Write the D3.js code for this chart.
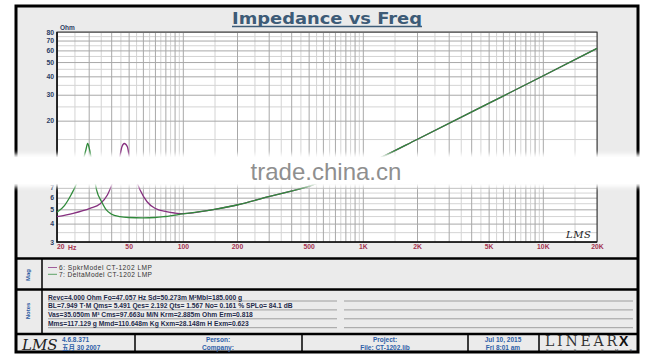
<!DOCTYPE html>
<html><head><meta charset="utf-8">
<script src="https://cdn.jsdelivr.net/npm/d3@7"></script>
<style>
html,body{margin:0;padding:0;background:#fff;}
svg{display:block;}
text{font-family:"Liberation Sans",Arial,"Noto Sans CJK SC",sans-serif;}
</style></head><body>
<svg id="c" width="652" height="360"></svg>
<script>
// ---- data ----
const spkrFreq = [20,24.6,30.5,34.6,38.1,41,44.3,45.9,47.3,49.2,50.7,54,57.9,63.3,70,81,90,100,150,200,300,400,500,700,1000,1273,2000,5000,10000,20000];
const spkrOhm  = [4.46,4.7,5.08,5.43,6.25,7.8,10.8,13.3,14.0,13.3,10.8,8.4,6.76,5.63,5.08,4.82,4.72,4.67,5.0,5.35,6.09,6.65,7.15,8.4,9.85,11.3,14.9,26.2,40.2,62];
const deltaFreq = [20,22,24,25.7,27,28,29,29.6,30.3,31.1,32,33.2,35.4,37.6,40,44.8,50,60,70,80,100,150,200,300,400,500,700,1000,1273,2000,5000,10000,20000];
const deltaOhm  = [4.77,5.3,6.3,7.5,9.0,10.8,12.8,14.0,12.8,10.8,8.6,6.76,5.63,4.95,4.65,4.46,4.4,4.38,4.4,4.47,4.65,5.0,5.35,6.09,6.65,7.15,8.4,9.85,11.3,14.9,26.2,40.2,62];
const xTickValues = [20,50,100,200,500,1000,2000,5000,10000,20000];
const xTickLabels = ["20","50","100","200","500","1K","2K","5K","10K","20K"];
const yTickValues = [3,4,5,6,7,8,9,10,20,30,40,50,60,70,80];
const legendLabels = ["6: SpkrModel  CT-1202 LMP","7: DeltaModel  CT-1202 LMP"];
const notes = [
  "Revc=4.000 Ohm  Fo=47.057 Hz  Sd=50.273m M\u00b2Mbl=185.000 g",
  "BL=7.949 T\u00b7M  Qms= 5.491  Qes= 2.192  Qts= 1.567  No= 0.161 %  SPLo= 84.1 dB",
  "Vas=35.050m M\u00b3 Cms=97.663u M/N  Krm=2.885m Ohm  Erm=0.818",
  "Mms=117.129 g  Mmd=110.648m Kg  Kxm=28.148m H  Exm=0.623"
];
const seriesColors = ["#86307f","#2f8a3a"];

// ---- drawing ----
const svg = d3.select("#c");
const defs = svg.append("defs");
defs.append("filter").attr("id","blur").attr("x","-10%").attr("y","-60%").attr("width","120%").attr("height","220%")
  .append("feGaussianBlur").attr("stdDeviation",2.2);

// frame
svg.append("rect").attr("x",16).attr("y",6).attr("width",622).attr("height",346)
  .attr("fill","#ebebeb").attr("stroke","#000").attr("stroke-width",3);

// title
svg.append("text").attr("x",327).attr("y",24).attr("text-anchor","middle")
  .style("font-family","DejaVu Sans, Verdana, sans-serif")
  .attr("font-weight","bold").attr("font-size",16).attr("fill","#3d5b77")
  .attr("textLength",190).attr("lengthAdjust","spacingAndGlyphs").text("Impedance vs Freq");
svg.append("line").attr("x1",232).attr("x2",422).attr("y1",26.5).attr("y2",26.5)
  .attr("stroke","#3d5b77").attr("stroke-width",1.5);

// scales
const x = d3.scaleLog().domain([20,20000]).range([57,597]);
const y = d3.scaleLog().domain([3,80]).range([242,32]);
const pw = 540, ph = 210;

svg.append("rect").attr("x",57).attr("y",32).attr("width",pw).attr("height",ph).attr("fill","#fff");

function gridVals(decades, lo, hi){
  const minor=[], major=[];
  decades.forEach(d=>{
    for(let m=2;m<=20;m++){
      const v = +(m*d/2).toPrecision(6);
      if(v<lo||v>hi) continue;
      if(m%2===0) major.push(v); else minor.push(v);
    }
  });
  return {minor:[...new Set(minor)], major:[...new Set(major)]};
}
const gx = gridVals([10,100,1000,10000],20,20000);
const gy = gridVals([1,10],3,80);

function grid(vals, color){
  const gX = svg.append("g").attr("transform","translate(0,242)")
    .call(d3.axisBottom(x).tickValues(vals.x).tickSize(-ph).tickFormat(""));
  const gY = svg.append("g").attr("transform","translate(57,0)")
    .call(d3.axisLeft(y).tickValues(vals.y).tickSize(-pw).tickFormat(""));
  [gX,gY].forEach(g=>{ g.select(".domain").remove(); g.selectAll("line").attr("stroke",color).attr("stroke-width",1); });
}
grid({x:gx.minor,y:gy.minor},"#d4d4d4");
grid({x:gx.major,y:gy.major},"#a8a8a8");

// plot border
svg.append("rect").attr("x",57).attr("y",32).attr("width",pw).attr("height",ph)
  .attr("fill","none").attr("stroke","#333").attr("stroke-width",1);
svg.append("path").attr("d",`M57,32V242H597`).attr("fill","none").attr("stroke","#111").attr("stroke-width",1.6);

// axis labels
const ax = svg.append("g").attr("transform","translate(57,0)")
  .call(d3.axisLeft(y).tickValues(yTickValues).tickSize(0).tickPadding(3).tickFormat(d3.format("d")));
ax.select(".domain").remove();
ax.selectAll("text").attr("font-size",6.8).attr("font-weight","bold").attr("fill","#2b3d63")
  .style("font-family","Liberation Sans, Arial, sans-serif");
const bx = svg.append("g").attr("transform","translate(0,242)")
  .call(d3.axisBottom(x).tickValues(xTickValues).tickSize(0).tickPadding(2).tickFormat((d,i)=>xTickLabels[i]));
bx.select(".domain").remove();
bx.selectAll("text").attr("font-size",6.8).attr("font-weight","bold").attr("fill","#a3324f")
  .style("font-family","Liberation Sans, Arial, sans-serif");
bx.selectAll("text").filter((d,i)=>i===0).attr("text-anchor","start").attr("dx",-0.5);
svg.append("text").attr("x",68).attr("y",249.5).attr("font-size",6.8).attr("font-weight","bold")
  .attr("fill","#a3324f").text("Hz");
svg.append("text").attr("x",60).attr("y",30).attr("font-size",6.5).attr("font-weight","bold")
  .attr("fill","#2b3d63").text("Ohm");

// curves
const line = d3.line().x(d=>x(d[0])).y(d=>y(d[1])).curve(d3.curveMonotoneX);
svg.append("path").datum(d3.zip(spkrFreq,spkrOhm)).attr("d",line).attr("fill","none")
  .attr("stroke",seriesColors[0]).attr("stroke-width",1.3);
svg.append("path").datum(d3.zip(deltaFreq,deltaOhm)).attr("d",line).attr("fill","none")
  .attr("stroke",seriesColors[1]).attr("stroke-width",1.3);

// LMS logo in plot
svg.append("text").attr("x",566).attr("y",238).attr("font-size",10).attr("font-style","italic")
  .style("font-family","DejaVu Serif, serif")
  .attr("fill","#222").attr("letter-spacing",0.5).text("LMS");

// section separators
svg.append("line").attr("x1",16).attr("x2",638).attr("y1",258.5).attr("y2",258.5).attr("stroke","#000").attr("stroke-width",2.5);
svg.append("line").attr("x1",16).attr("x2",638).attr("y1",289.5).attr("y2",289.5).attr("stroke","#000").attr("stroke-width",2.5);
svg.append("line").attr("x1",16).attr("x2",638).attr("y1",334).attr("y2",334).attr("stroke","#000").attr("stroke-width",2.5);
svg.append("line").attr("x1",42).attr("x2",42).attr("y1",259).attr("y2",334).attr("stroke","#000").attr("stroke-width",1.5);

// side labels
[["Mag",275],["Notes",311]].forEach(([t,cy])=>{
  svg.append("text").attr("transform",`translate(30,${cy}) rotate(-90)`).attr("text-anchor","middle")
    .attr("font-size",6).attr("font-weight","bold").attr("fill","#2a5aa0").text(t);
});

// legend
legendLabels.forEach((t,i)=>{
  const yy = 267.5 + i*6.8;
  svg.append("line").attr("x1",48).attr("x2",57).attr("y1",yy).attr("y2",yy)
    .attr("stroke",seriesColors[i]).attr("stroke-width",1).attr("opacity",0.75);
  svg.append("text").attr("x",59).attr("y",yy+2.2).attr("font-size",6.6).attr("fill","#333")
    .attr("textLength",93).attr("lengthAdjust","spacing").text(t);
});

// notes
notes.forEach((t,i)=>{
  const yy = 301 + i*8.9;
  svg.append("line").attr("x1",48).attr("x2",337).attr("y1",yy).attr("y2",yy).attr("stroke","#8a8a8a").attr("stroke-width",0.8);
  svg.append("line").attr("x1",344).attr("x2",633).attr("y1",yy).attr("y2",yy).attr("stroke","#8a8a8a").attr("stroke-width",0.8);
  svg.append("text").attr("x",48).attr("y",yy-1.5).attr("font-size",6.7).attr("font-weight","bold")
    .attr("fill","#1e2a4a").text(t);
});

// footer
[135,302,468,539].forEach(xx=>{
  svg.append("line").attr("x1",xx).attr("x2",xx).attr("y1",335).attr("y2",352).attr("stroke","#000").attr("stroke-width",1.5);
});
svg.append("text").attr("x",22).attr("y",350).attr("font-size",15).attr("font-style","italic")
  .style("font-family","DejaVu Serif, serif")
  .attr("fill","#222").text("LMS");
const foot = [
  [62,341.5,"4.6.8.371","start"],[62,350,"\u4e94\u6708 30 2007","start"],
  [218,341.5,"Person:","middle"],[218,350,"Company:","middle"],
  [385,341.5,"Project:","middle"],[385,350,"File: CT-1202.lib","middle"],
  [503,341.5,"Jul 10, 2015","middle"],[503,350,"Fri  8:01 am","middle"]
];
foot.forEach(([fx,fy,t,a])=>{
  svg.append("text").attr("x",fx).attr("y",fy).attr("text-anchor",a).attr("font-size",6.5)
    .attr("font-weight","bold").attr("fill","#2e5fa8").text(t);
});
svg.append("text").attr("x",545).attr("y",346).attr("font-size",14)
  .style("font-family","DejaVu Serif, serif")
  .attr("font-weight","200").attr("fill","#333").attr("textLength",72).attr("lengthAdjust","spacing").text("LINEAR");
svg.append("text").attr("x",619).attr("y",346).attr("font-size",14).attr("font-weight","900")
  .attr("fill","#111").text("X");
svg.append("text").attr("x",546).attr("y",351.5).attr("font-size",3.8)
  .attr("fill","#333").attr("textLength",86).attr("lengthAdjust","spacing").text("SYSTEMS");

// watermark band
svg.append("rect").attr("x",8).attr("y",154).attr("width",638).attr("height",33)
  .attr("fill","#fff").attr("opacity",1).attr("filter","url(#blur)");
svg.append("rect").attr("x",12).attr("y",157).attr("width",630).attr("height",27)
  .attr("fill","#fff").attr("opacity",0.85);
svg.append("text").attr("x",326).attr("y",180).attr("text-anchor","middle").attr("font-size",24)
  .attr("fill","#8f8f8f").text("trade.china.cn");
</script></body></html>
